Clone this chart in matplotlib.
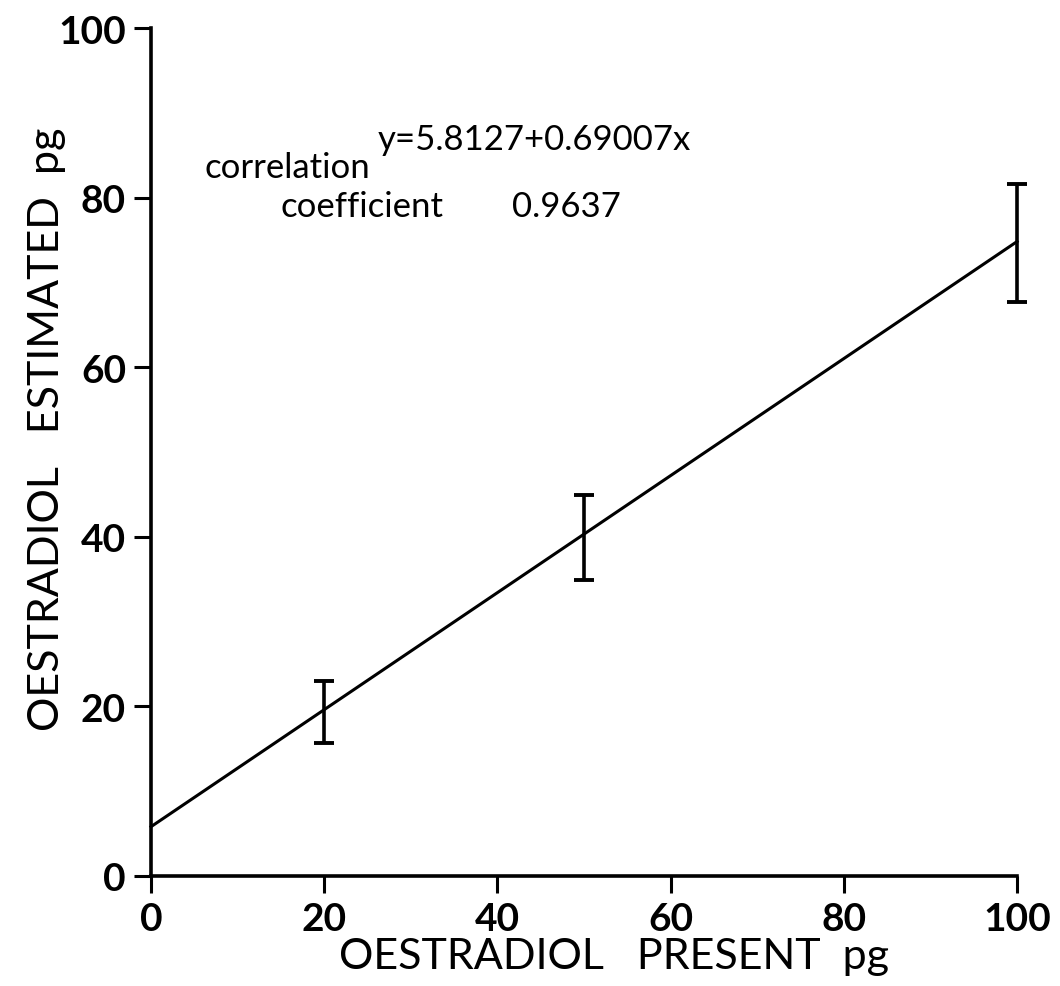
import numpy as np
import matplotlib
matplotlib.use("Agg")
import matplotlib.pyplot as plt

plt.rcParams['font.family'] = ['Lato', 'DejaVu Sans']
plt.rcParams['font.weight'] = 'semibold'

# regression fit reported on the plot
intercept = 5.8127
slope = 0.69007
corr = 0.9637

# oestradiol present (pg) and estimated range
present = [20, 50, 100]
est_low = [15.7, 34.9, 67.7]
est_high = [23.0, 44.9, 81.6]

ticks = [0, 20, 40, 60, 80, 100]

fig = plt.figure(figsize=(10.6, 9.87), dpi=100)
ax = fig.add_axes([0.1425, 0.1115, 0.8170, 0.8591])

# fitted line over the whole range
xx = np.array([0, 100])
ax.plot(xx, intercept + slope * xx, color='black', lw=2.2, clip_on=False)

# error bars (no markers)
low = np.array(est_low)
high = np.array(est_high)
mid = (low + high) / 2
ax.errorbar(present, mid, yerr=[mid - low, high - mid], fmt='none',
            ecolor='black', elinewidth=2.6, capsize=7.5, capthick=2.8, clip_on=False)

ax.set_xlim(0, 100)
ax.set_ylim(0, 100)
ax.set_xticks(ticks)
ax.set_yticks(ticks)
ax.tick_params(direction='out', length=12, width=2.2, labelsize=28, pad=6)
for lbl in ax.get_xticklabels() + ax.get_yticklabels():
    lbl.set_fontweight('bold')
for s in ['top', 'right']:
    ax.spines[s].set_visible(False)
for s in ['left', 'bottom']:
    ax.spines[s].set_linewidth(2.6)

ax.set_xlabel('OESTRADIOL   PRESENT  pg', fontsize=31)
ax.set_ylabel('OESTRADIOL   ESTIMATED  pg', fontsize=31)
ax.xaxis.set_label_coords(0.535, -0.072)
ax.yaxis.set_label_coords(-0.098, 0.528)

txt = dict(fontsize=25, ha='left', va='baseline', weight='normal')
ax.text(26.2, 85.7, 'y=5.8127+0.69007x', **txt)
ax.text(6.2, 82.4, 'correlation', **txt)
ax.text(14.9, 77.8, 'coefficient', **txt)
ax.text(41.7, 77.8, f'{corr}', **txt)

fig.savefig('out.png', dpi=100)
